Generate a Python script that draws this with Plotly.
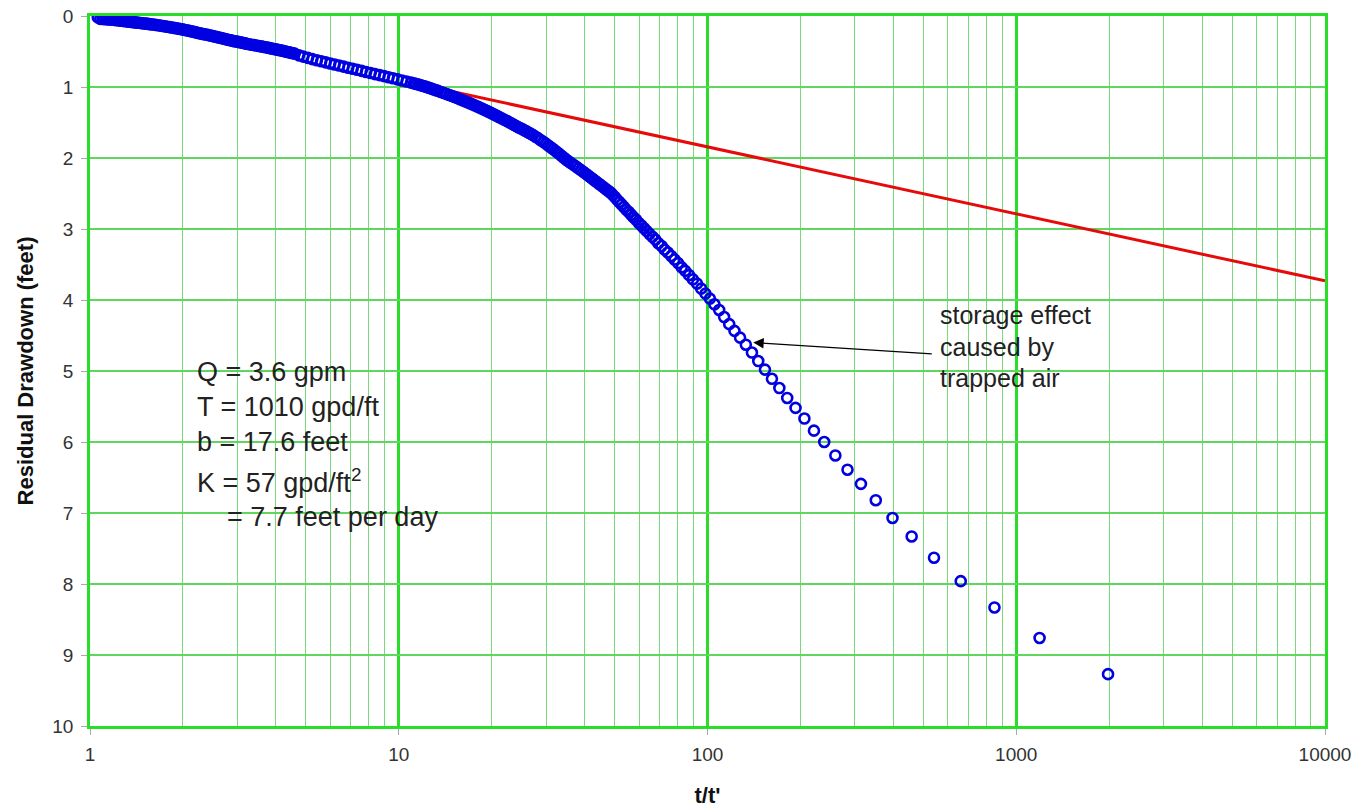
import math
import plotly.graph_objects as go

# ---------------- data ----------------
# isolated first readings near t/t' = 1
start_x = [1.06, 1.16, 1.33]
start_y = [0.02, 0.025, 0.03]

# dense early readings (solid band)
early_x = [1.08, 1.10, 1.12, 1.14, 1.16, 1.18, 1.20, 1.22, 1.24, 1.26, 1.28, 1.30, 1.32, 1.34,
           1.36, 1.38, 1.40, 1.42, 1.44, 1.46, 1.48, 1.50, 1.52, 1.54, 1.56, 1.58, 1.60,
           1.63, 1.66, 1.69, 1.72, 1.75, 1.78, 1.81, 1.84, 1.87, 1.90, 1.93, 1.96, 1.99, 2.02,
           2.05, 2.08, 2.11, 2.14, 2.17, 2.20, 2.23, 2.26, 2.29, 2.32, 2.35, 2.38,
           2.42, 2.46, 2.50, 2.54, 2.58, 2.62, 2.66, 2.70, 2.74, 2.78, 2.82, 2.86, 2.90, 2.94,
           2.98, 3.02, 3.06, 3.10, 3.14, 3.18, 3.22,
           3.28, 3.34, 3.40, 3.46, 3.52, 3.58, 3.64, 3.70, 3.76, 3.82, 3.88, 3.94, 4.00, 4.06,
           4.12, 4.18, 4.24, 4.30, 4.36, 4.42, 4.48, 4.54, 4.60]
early_y = [0.040, 0.043, 0.045, 0.048, 0.050, 0.053, 0.055, 0.059, 0.062, 0.066, 0.069, 0.073,
           0.076, 0.080, 0.083, 0.087, 0.090, 0.093, 0.096, 0.099, 0.102, 0.105, 0.108, 0.111,
           0.114, 0.117, 0.120,
           0.125, 0.131, 0.136, 0.141, 0.146, 0.152, 0.157, 0.162, 0.167, 0.173, 0.178, 0.183,
           0.188, 0.194, 0.200, 0.206, 0.212, 0.218, 0.224, 0.230, 0.236, 0.242, 0.248, 0.253,
           0.258, 0.263,
           0.270, 0.277, 0.283, 0.290, 0.297, 0.303, 0.310, 0.317, 0.323, 0.330, 0.337, 0.343,
           0.350, 0.355, 0.360, 0.365, 0.370, 0.375, 0.380, 0.385, 0.390,
           0.398, 0.404, 0.410, 0.416, 0.422, 0.428, 0.434, 0.440, 0.446, 0.452, 0.458, 0.464,
           0.470, 0.476, 0.482, 0.488, 0.494, 0.500, 0.506, 0.512, 0.518, 0.524, 0.530]

# readings between t/t' = 4.6 and 11 (separate circles)
mid_x = [4.75, 4.91, 5.08, 5.25, 5.43, 5.61, 5.80, 6.00, 6.20, 6.41, 6.63, 6.86, 7.09, 7.33,
         7.58, 7.84, 8.11, 8.38, 8.67, 8.96, 9.27, 9.58, 9.91, 10.25, 10.60, 10.96]
mid_y = [0.555, 0.572, 0.590, 0.607, 0.624, 0.638, 0.653, 0.668, 0.683, 0.698, 0.713, 0.728,
         0.743, 0.758, 0.773, 0.788, 0.803, 0.818, 0.833, 0.847, 0.863, 0.877, 0.893, 0.908,
         0.923, 0.938]

# dense readings t/t' = 11 .. 48 (curving band)
bend_x = [11.2, 11.4, 11.6, 11.8, 12.0, 12.2, 12.4, 12.6, 12.8, 13.0, 13.2, 13.4,
          13.7, 14.0, 14.3, 14.6, 14.9, 15.2, 15.5, 15.8, 16.1,
          16.4, 16.7, 17.0, 17.3, 17.6, 17.9, 18.2, 18.5, 18.8, 19.1, 19.4, 19.7, 20.0, 20.3,
          20.6, 20.9, 21.2,
          21.6, 22.0, 22.4, 22.8, 23.2, 23.6, 24.0, 24.4, 24.8, 25.2, 25.6, 26.0, 26.4, 26.8, 27.2,
          27.75, 28.3, 28.85, 29.4, 29.95, 30.5, 31.05, 31.6, 32.15, 32.7, 33.25, 33.8, 34.35,
          34.9, 35.45,
          36.1, 36.8, 37.5, 38.2, 38.9, 39.6, 40.3, 41.0, 41.7, 42.4, 43.1, 43.8, 44.5, 45.2,
          45.9, 46.6, 47.3, 48.0]
bend_y = [0.949, 0.958, 0.967, 0.976, 0.985, 0.995, 1.005, 1.015, 1.025, 1.035, 1.045, 1.055,
          1.070, 1.085, 1.100, 1.114, 1.129, 1.143, 1.157, 1.172, 1.186,
          1.200, 1.215, 1.229, 1.243, 1.257, 1.271, 1.285, 1.299, 1.313, 1.327, 1.341, 1.355,
          1.369, 1.383, 1.397, 1.411, 1.425,
          1.443, 1.461, 1.479, 1.497, 1.514, 1.532, 1.550, 1.566, 1.582, 1.597, 1.613, 1.629,
          1.645, 1.660, 1.676,
          1.700, 1.724, 1.749, 1.773, 1.798, 1.823, 1.848, 1.873, 1.899, 1.924, 1.949, 1.975,
          2.000, 2.025, 2.046,
          2.070, 2.095, 2.120, 2.146, 2.171, 2.195, 2.220, 2.245, 2.269, 2.293, 2.317, 2.340,
          2.363, 2.386, 2.407, 2.429, 2.450, 2.471]

# late readings (individual circles)
late_x = [48.6, 49.3, 50.1, 51.0, 51.8, 52.7, 53.6, 54.6, 55.6, 56.6, 57.6, 58.7, 59.9, 61.1,
          62.3, 63.6, 64.9, 66.3, 67.8, 69.3, 71.0, 72.6, 74.4, 76.3, 78.2, 80.3, 82.5, 84.7,
          87.2, 89.7, 92.5, 95.4, 98.5, 101.8, 105.3, 109.1, 113.2, 117.6,
          122.3, 127.5, 133.1, 139.3, 146.0, 153.5, 161.7, 170.9, 181.2, 192.8, 206.0, 221.2, 238.8,
          259.5, 284.1, 314.0, 350.8, 397.4, 458.4, 541.5, 661.0, 850.0, 1190.0, 1983.0]
late_y = [2.49, 2.52, 2.55, 2.59, 2.62, 2.655, 2.69, 2.73, 2.76, 2.80, 2.835, 2.87, 2.915, 2.95,
          2.99, 3.03, 3.07, 3.11, 3.15, 3.20, 3.24, 3.29, 3.33, 3.38, 3.43, 3.48, 3.54, 3.59,
          3.65, 3.71, 3.77, 3.84, 3.91, 3.98, 4.06, 4.14, 4.24, 4.34,
          4.435, 4.53, 4.63, 4.74, 4.86, 4.98, 5.11, 5.24, 5.38, 5.52, 5.67, 5.84, 6.00,
          6.19, 6.39, 6.59, 6.82, 7.07, 7.33, 7.63, 7.96, 8.33, 8.76, 9.27]

# straight-line (Theis recovery) fit
fit_x = [12, 10000]
fit_y = [0.975, 3.73]

x_ticks = [1, 10, 100, 1000, 10000]
x_tick_text = ["1", "10", "100", "1000", "10000"]
x_minor = [m * d for d in (1, 10, 100, 1000) for m in range(2, 10)]
y_ticks = list(range(0, 11))

param_lines = ["Q = 3.6 gpm", "T = 1010 gpd/ft", "b = 17.6 feet",
               "K = 57 gpd/ft<sup>2</sup>", "\u00a0\u00a0\u00a0\u00a0= 7.7 feet per day"]
note_lines = ["storage effect", "caused by", "trapped air"]
arrow_tip = (140.7, 4.60)
arrow_tail = (538.6, 4.76)

# ---------------- figure ----------------
FONT = "Liberation Sans, Arial, Helvetica, sans-serif"
MAJOR_GREEN = "rgb(40,222,40)"
MINOR_GREEN = "rgb(120,218,120)"
H_GREEN = "rgb(95,215,95)"
BLUE = "rgb(0,0,225)"

all_x = start_x + early_x + mid_x + bend_x + late_x
all_y = start_y + early_y + mid_y + bend_y + late_y

fig = go.Figure()
fig.add_trace(go.Scatter(x=fit_x, y=fit_y, mode="lines",
                         line=dict(color="rgb(230,10,10)", width=3), hoverinfo="skip"))
fig.add_trace(go.Scatter(x=all_x, y=all_y, mode="markers",
                         marker=dict(symbol="circle-open", size=10, color=BLUE,
                                     line=dict(width=2.6, color=BLUE))))

fig.update_layout(
    width=1357, height=809,
    margin=dict(l=90, r=32, t=16, b=83, autoexpand=False),
    paper_bgcolor="white", plot_bgcolor="white",
    showlegend=False,
    font=dict(family=FONT, color="#333"),
)

fig.update_xaxes(
    type="log", range=[0, 4], automargin=False,
    tickvals=x_ticks, ticktext=x_tick_text,
    tickfont=dict(size=19, color="#333", family=FONT),
    ticks="outside", ticklen=6, tickcolor="#aaa", tickwidth=1,
    ticklabelstandoff=3,
    showgrid=True, gridcolor=MAJOR_GREEN, gridwidth=2.5,
    minor=dict(tickvals=x_minor, showgrid=True, gridcolor=MINOR_GREEN, gridwidth=1, ticks=""),
    showline=True, linecolor=MAJOR_GREEN, linewidth=2.5, mirror=True,
    zeroline=False,
    title=dict(text="t/t'", font=dict(size=22, color="#111", family=FONT, weight="bold"),
               standoff=25),
)
fig.update_yaxes(
    range=[10, 0], automargin=False,
    tickvals=y_ticks,
    tickfont=dict(size=19, color="#333", family=FONT),
    ticks="outside", ticklen=6, tickcolor="#aaa", tickwidth=1,
    ticklabelstandoff=4,
    showgrid=True, gridcolor=H_GREEN, gridwidth=1.5,
    showline=True, linecolor=MAJOR_GREEN, linewidth=2.5, mirror=True,
    zeroline=False,
    title=dict(text="Residual Drawdown (feet)",
               font=dict(size=22, color="#111", family=FONT, weight="bold"), standoff=13),
)


def px2paper(px, py):
    # page pixel -> paper fraction of the plot area (90..1325, 16..726)
    return (px - 90) / 1235.0, (726 - py) / 710.0


# white label boxes that hide the grid
for (x0, y0, x1, y1) in [(190, 352, 507, 577), (933, 297, 1140, 472)]:
    a0, b0 = px2paper(x0, y1)
    a1, b1 = px2paper(x1, y0)
    fig.add_shape(type="rect", xref="paper", yref="paper", x0=a0, x1=a1, y0=b0, y1=b1,
                  fillcolor="white", line=dict(width=0), layer="between")

param_y = [372, 407, 442, 481, 517]
for txt, py in zip(param_lines, param_y):
    ax_, ay_ = px2paper(195, py)
    fig.add_annotation(text=txt, xref="paper", yref="paper", x=ax_, y=ay_,
                       xanchor="left", yanchor="middle", showarrow=False,
                       font=dict(size=27, color="#222", family=FONT))

note_y = [315, 347, 378]
for txt, py in zip(note_lines, note_y):
    ax_, ay_ = px2paper(938, py)
    fig.add_annotation(text=txt, xref="paper", yref="paper", x=ax_, y=ay_,
                       xanchor="left", yanchor="middle", showarrow=False,
                       font=dict(size=25, color="#222", family=FONT))

fig.add_annotation(text="", x=math.log10(arrow_tip[0]), y=arrow_tip[1],
                   ax=math.log10(arrow_tail[0]), ay=arrow_tail[1],
                   xref="x", yref="y", axref="x", ayref="y",
                   showarrow=True, arrowhead=2, arrowsize=1.6, arrowwidth=1.3,
                   arrowcolor="black")

# remove the browser's default 8px page margin so the figure fills the window exactly
fig.write_html(
    "out.html",
    config={"displayModeBar": False},
    post_script="document.body.style.margin='0px';"
                "document.documentElement.style.overflow='hidden';",
)
